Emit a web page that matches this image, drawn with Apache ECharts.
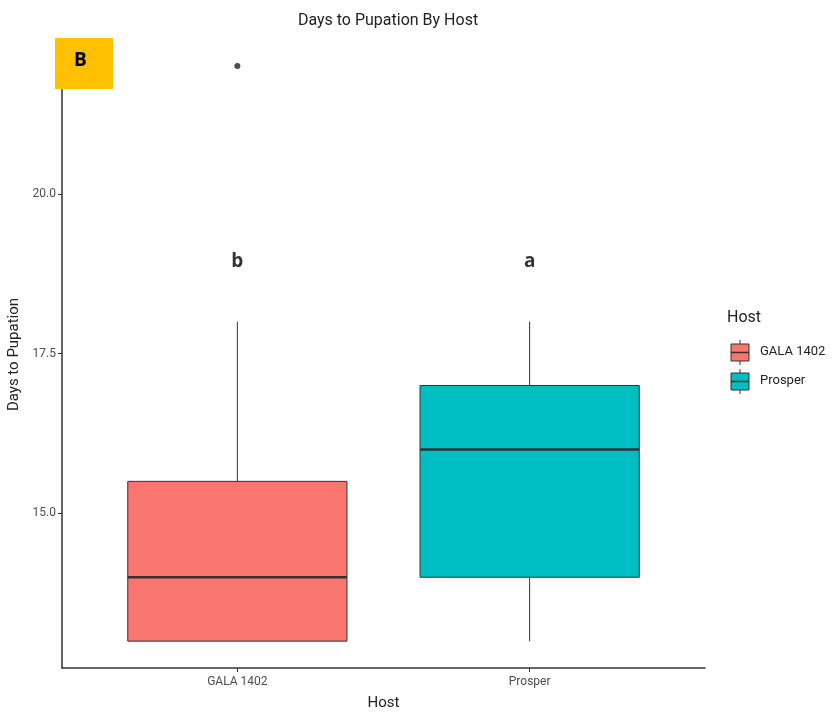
<!DOCTYPE html>
<html><head><meta charset="utf-8">
<script src="https://cdn.jsdelivr.net/npm/echarts@6/dist/echarts.min.js"></script>
<style>html,body{margin:0;padding:0;background:#fff}#c{width:832px;height:714px}</style>
</head><body><div id="c"></div>
<script>
var categories = ['GALA 1402', 'Prosper'];
// [lowWhisker, Q1, median, Q3, highWhisker]
var boxStats = [
  [13, 13, 14, 15.5, 18],
  [13, 14, 16, 17, 18]
];
var outliers = [[1, 22]];
var letters = ['b', 'a'];
var letterY = 19;
var colors = ['#F8766D', '#00BFC4'];
var yTicks = [15, 17.5, 20];

var chart = echarts.init(document.getElementById('c'));
var boxData = boxStats.map(function (s, i) { return [i + 1].concat(s); });
var font = 'Roboto, "Liberation Sans", sans-serif';

chart.setOption({
  animation: false,
  title: { text: 'Days to Pupation By Host', left: 383, top: 8, textAlign: 'center',
    textStyle: { fontFamily: font, fontSize: 16, fontWeight: 'normal', color: '#222' } },
  grid: { left: 62, right: 127, top: 41, bottom: 46, outerBoundsMode: 'none', containLabel: false },
  xAxis: {
    type: 'value', min: 0.4, max: 2.6,
    name: 'Host', nameLocation: 'middle', nameGap: 28,
    nameTextStyle: { fontFamily: font, fontSize: 15, color: '#222' },
    axisLine: { lineStyle: { color: '#333', width: 1.5 } },
    axisTick: { show: true, customValues: [1, 2], length: 4, lineStyle: { color: '#333' } },
    axisLabel: { customValues: [1, 2], formatter: function (v) { return categories[Math.round(v) - 1]; },
      fontFamily: font, fontSize: 12, color: '#4d4d4d', margin: 8 },
    splitLine: { show: false }
  },
  yAxis: {
    type: 'value', min: 12.58, max: 22.39,
    name: 'Days to Pupation', nameLocation: 'middle', nameGap: 40, nameRotate: 90,
    nameTextStyle: { fontFamily: font, fontSize: 15, color: '#222' },
    axisLine: { show: true, lineStyle: { color: '#333', width: 1.5 } },
    axisTick: { show: true, customValues: yTicks, length: 4, lineStyle: { color: '#333' } },
    axisLabel: { customValues: yTicks, formatter: function (v) { return v.toFixed(1); },
      fontFamily: font, fontSize: 12, color: '#4d4d4d', margin: 6 },
    splitLine: { show: false }
  },
  series: [
    {
      type: 'custom',
      data: boxData,
      renderItem: function (params, api) {
        var x = api.value(0);
        var hw = api.size([0.75, 0])[0] / 2;
        var c = api.coord([x, 0])[0];
        var lo = api.coord([x, api.value(1)])[1];
        var q1 = api.coord([x, api.value(2)])[1];
        var md = api.coord([x, api.value(3)])[1];
        var q3 = api.coord([x, api.value(4)])[1];
        var hi = api.coord([x, api.value(5)])[1];
        var col = colors[params.dataIndex];
        return { type: 'group', children: [
          { type: 'line', shape: { x1: c, y1: hi, x2: c, y2: q3 }, style: { stroke: '#333', lineWidth: 1 } },
          { type: 'line', shape: { x1: c, y1: q1, x2: c, y2: lo }, style: { stroke: '#333', lineWidth: 1 } },
          { type: 'rect', shape: { x: c - hw, y: q3, width: 2 * hw, height: q1 - q3 }, style: { fill: col, stroke: '#333', lineWidth: 1 } },
          { type: 'line', shape: { x1: c - hw, y1: md, x2: c + hw, y2: md }, style: { stroke: '#333', lineWidth: 2.5 } }
        ] };
      }
    },
    {
      type: 'scatter', data: outliers, symbolSize: 6, itemStyle: { color: '#222' }
    },
    {
      type: 'scatter', symbolSize: 0,
      data: letters.map(function (l, i) { return { value: [i + 1, letterY], name: l }; }),
      label: { show: true, position: 'inside', offset: [0, 4], formatter: '{b}',
        fontFamily: '"Open Sans", sans-serif', fontWeight: 'bold', fontSize: 19, color: '#000' }
    }
  ],
  graphic: [
    { type: 'rect', left: 55, top: 38, shape: { width: 58, height: 51 }, style: { fill: '#FFC000' }, z: 100 },
    { type: 'text', left: 74, top: 51, style: { text: 'B', font: 'bold 19px "Open Sans", sans-serif', fill: '#000' }, z: 101 },
    { type: 'text', left: 727, top: 310, style: { text: 'Host', font: '16px ' + font, fill: '#222' } },
    // legend key 1
    { type: 'line', shape: { x1: 740, y1: 340, x2: 740, y2: 365 }, style: { stroke: '#333', lineWidth: 1 } },
    { type: 'rect', shape: { x: 731, y: 344, width: 18, height: 17 }, style: { fill: colors[0], stroke: '#333', lineWidth: 1 } },
    { type: 'line', shape: { x1: 731, y1: 352.5, x2: 749, y2: 352.5 }, style: { stroke: '#333', lineWidth: 1.5 } },
    { type: 'text', left: 760, top: 345, style: { text: categories[0], font: '13px ' + font, fill: '#222' } },
    // legend key 2
    { type: 'line', shape: { x1: 740, y1: 369, x2: 740, y2: 394 }, style: { stroke: '#333', lineWidth: 1 } },
    { type: 'rect', shape: { x: 731, y: 373, width: 18, height: 17 }, style: { fill: colors[1], stroke: '#333', lineWidth: 1 } },
    { type: 'line', shape: { x1: 731, y1: 381.5, x2: 749, y2: 381.5 }, style: { stroke: '#333', lineWidth: 1.5 } },
    { type: 'text', left: 760, top: 374, style: { text: categories[1], font: '13px ' + font, fill: '#222' } }
  ]
});
</script></body></html>
